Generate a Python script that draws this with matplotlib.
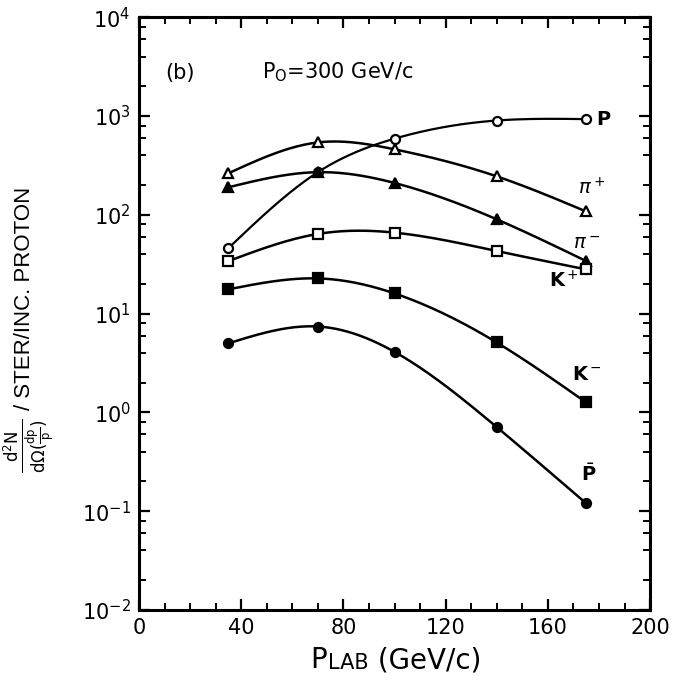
import numpy as np
import matplotlib
matplotlib.use('Agg')
import matplotlib.pyplot as plt
from matplotlib.ticker import MultipleLocator, FixedLocator, NullFormatter

# lab momentum of the secondaries (GeV/c)
p_lab = [35, 70, 100, 140, 175]

# invariant yields per steradian per incident proton, P0 = 300 GeV/c
proton = [46, 270, 590, 900, 930]
pi_plus = [263, 540, 460, 245, 108]
pi_minus = [190, 270, 210, 90, 34]
k_plus = [34, 64, 66, 43, 28]
k_minus = [17.6, 22.7, 16, 5.1, 1.26]
pbar = [5.0, 7.4, 4.1, 0.71, 0.12]

names = [r'$\mathbf{P}$', r'$\pi^+$', r'$\pi^-$', r'$\mathbf{K}^+$', r'$\mathbf{K}^-$',
         r'$\bar{\mathbf{P}}$']

decades = [1e-2, 1e-1, 1e0, 1e1, 1e2, 1e3, 1e4]


def smooth_curve(x, y, n=40):
    # natural cubic spline through the points, in (x, log y)
    x = np.asarray(x, float)
    ly = np.log10(np.asarray(y, float))
    k = len(x)
    h = np.diff(x)
    A = np.zeros((k, k))
    b = np.zeros(k)
    A[0, 0] = A[-1, -1] = 1
    for i in range(1, k - 1):
        A[i, i - 1] = h[i - 1]
        A[i, i] = 2 * (h[i - 1] + h[i])
        A[i, i + 1] = h[i]
        b[i] = 6 * ((ly[i + 1] - ly[i]) / h[i] - (ly[i] - ly[i - 1]) / h[i - 1])
    m = np.linalg.solve(A, b)
    xs, ys = [], []
    for i in range(k - 1):
        t = np.linspace(x[i], x[i + 1], n)
        a = (x[i + 1] - t) / h[i]
        c = (t - x[i]) / h[i]
        s = (a * ly[i] + c * ly[i + 1]
             + ((a ** 3 - a) * m[i] + (c ** 3 - c) * m[i + 1]) * h[i] ** 2 / 6)
        xs.append(t)
        ys.append(s)
    return np.concatenate(xs), 10 ** np.concatenate(ys)


fig = plt.figure(figsize=(6.86, 6.88), dpi=100)
ax = fig.add_axes([0.2026, 0.1134, 0.745, 0.8616])

series = [
    (proton, 'o', 'white', 1.6),
    (pi_plus, '^', 'white', 1.8),
    (pi_minus, '^', 'black', 1.8),
    (k_plus, 's', 'white', 1.8),
    (k_minus, 's', 'black', 1.8),
    (pbar, 'o', 'black', 1.8),
]
for vals, mk, face, lw in series:
    cx, cy = smooth_curve(p_lab, vals)
    ax.plot(cx, cy, color='black', lw=lw, zorder=2)
    ax.plot(p_lab, vals, linestyle='none', marker=mk, ms=6.5,
            mfc=face, mec='black', mew=1.6, zorder=3)

# particle names at the right-hand end of each curve
name_pos = [(179, 930), (177, 190), (175, 51), (166.5, 21.7), (175.5, 2.4), (176, 0.24)]
for i, (txt, (tx, ty)) in enumerate(zip(names, name_pos)):
    ax.text(tx, ty, txt, fontsize=14, ha='left' if i == 0 else 'center', va='center')

ax.text(16, 2750, '(b)', fontsize=15, va='center', ha='center')
ax.text(48, 2750, r'P$_{\mathrm{O}}$=300 GeV/c', fontsize=15, va='center', ha='left')

ax.set_yscale('log')
ax.set_xlim(0, 200)
ax.set_ylim(1e-2, 1e4)

ax.xaxis.set_major_locator(MultipleLocator(40))
ax.xaxis.set_minor_locator(MultipleLocator(10))
ax.yaxis.set_major_locator(FixedLocator(decades))
ax.yaxis.set_minor_locator(FixedLocator([d * s for d in decades[:-1] for s in (2, 4, 6, 8)]))
ax.yaxis.set_minor_formatter(NullFormatter())

ax.tick_params(which='both', direction='in', top=True, right=True)
ax.tick_params(which='major', length=8, width=1.6, labelsize=15, pad=6)
ax.tick_params(which='minor', length=5, width=1.4)
for sp in ax.spines.values():
    sp.set_linewidth(2.2)

# y label: the fraction and the units text, both rotated
fig.text(0.042, 0.352, r'$\frac{\mathrm{d^2N}}{\mathrm{d\Omega(\frac{dp}{p})}}$', rotation=90,
         fontsize=17, ha='center', va='center')
fig.text(0.036, 0.567, '/ STER/INC. PROTON', rotation=90, fontsize=16,
         fontfamily='Liberation Sans', ha='center', va='center')

# x label with small-caps "LAB", pieces chained on a common baseline
d_shift = 0.24 * (20 - 15)
t_p = fig.text(0.452, 0.02, 'P', fontsize=20, ha='left', va='bottom')
t_lab = ax.annotate('LAB', xy=(1, 0), xycoords=t_p, xytext=(1, d_shift),
                    textcoords='offset points', fontsize=15, ha='left', va='bottom',
                    annotation_clip=False)
ax.annotate(' (GeV/c)', xy=(1, 0), xycoords=t_lab, xytext=(0, -d_shift),
            textcoords='offset points', fontsize=20, ha='left', va='bottom',
            annotation_clip=False)

fig.savefig('out.png', dpi=100)
